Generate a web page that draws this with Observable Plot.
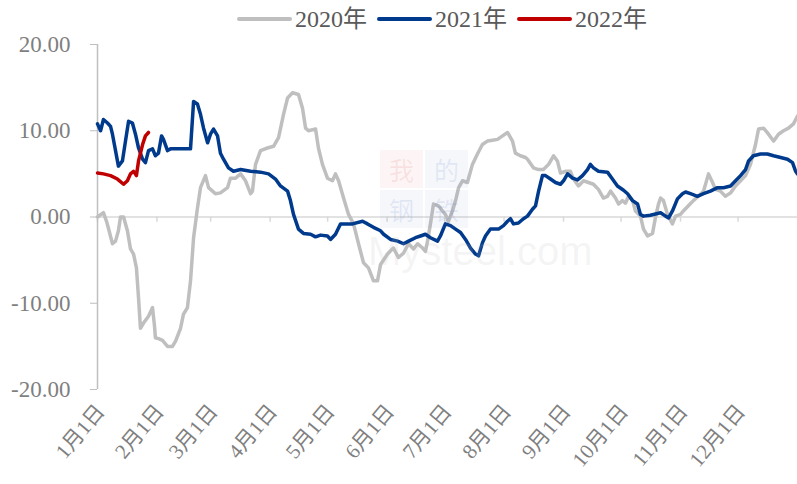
<!DOCTYPE html>
<html>
<head>
<meta charset="utf-8">
<script src="https://cdn.jsdelivr.net/npm/d3@7"></script>
<script src="https://cdn.jsdelivr.net/npm/@observablehq/plot@0.6"></script>
<style>
  body { margin: 0; background: #fff; }
  #wrap { position: relative; width: 797px; height: 484px; overflow: hidden; font-family: 'Liberation Serif', 'Noto Sans CJK SC', serif; }
  #legend { position: relative; height: 30px; width: 797px; }
  .item { position: absolute; top: 4px; display: flex; align-items: center; font-size: 24px; color: #595959; line-height: 30px; }
  .sw { width: 55px; height: 4px; border-radius: 2px; margin-right: 3px; }
  .wm { position: absolute; pointer-events: none; }
  .blk { position: absolute; width: 43px; height: 38px; font-size: 25px; line-height: 38px; text-align: center; font-family: 'Noto Sans CJK SC', sans-serif; }
</style>
</head>
<body>
<div id="wrap">
  <div id="legend"></div>
  <div id="chart"></div>
  <div class="wm" style="left:0;top:0;width:797px;height:484px;">
    <div class="blk" style="left:380px;top:150px;background:rgba(230,120,120,0.07);color:rgba(220,80,80,0.12);">我</div>
    <div class="blk" style="left:425px;top:150px;background:rgba(110,140,200,0.07);color:rgba(80,110,190,0.12);">的</div>
    <div class="blk" style="left:380px;top:190px;background:rgba(110,140,200,0.07);color:rgba(80,110,190,0.12);">钢</div>
    <div class="blk" style="left:425px;top:190px;background:rgba(110,140,200,0.07);color:rgba(80,110,190,0.12);">铁</div>
    <div style="position:absolute;left:368px;top:229px;font-family:'Liberation Sans',sans-serif;font-size:40px;color:rgba(190,190,190,0.16);">Mysteel.com</div>
  </div>
</div>
<script>
// ---- data (day of year, value) ----
const monthStarts = [0, 31, 59, 90, 120, 151, 181, 212, 243, 273, 304, 334];
const monthLabels = ["1月1日","2月1日","3月1日","4月1日","5月1日","6月1日","7月1日","8月1日","9月1日","10月1日","11月1日","12月1日"];
const yTicks = [-20, -10, 0, 10, 20];
const seriesNames = ["2020年", "2021年", "2022年"];
const seriesColors = ["#bfbfbf", "#003a8c", "#c00000"];

const days2020 = [0,3.1,4.7,5.7,7.8,9.4,10.9,12.0,13.6,15.6,17.2,18.8,20.3,21.4,22.4,24.0,26.6,28.7,29.7,30.2,31.8,33.9,36.5,39.1,40.7,43.3,44.8,46.9,48.5,50.1,52.1,53.7,56.3,57.9,60.0,61.5,64.1,67.8,69.3,72.0,74.6,77.2,79.8,80.8,82.4,85.0,88.6,91.8,94.4,97.0,99.1,101.7,104.8,106.9,108.5,110.0,113.7,115.2,117.3,119.9,122.5,124.1,125.7,128.3,130.9,133.5,136.1,138.7,141.3,143.9,146.0,147.6,151.2,154.3,156.9,159.5,162.2,164.8,166.9,169.5,171.0,172.1,173.6,175.2,177.8,179.9,181.4,183.0,185.1,186.7,188.3,190.3,192.9,195.5,198.1,200.7,203.3,206.0,208.6,211.2,213.8,216.4,217.9,220.5,223.2,224.2,227.3,229.9,232.5,235.2,237.8,239.8,241.4,244.0,246.6,248.2,250.8,253.4,256.0,258.6,261.2,263.8,265.9,267.5,270.1,271.7,273.7,275.3,276.9,279.0,280.5,283.1,284.7,286.8,289.4,290.9,292.5,293.6,295.1,297.2,299.8,301.4,304.0,305.5,308.1,310.7,313.3,316.0,318.6,320.7,322.2,324.8,327.4,330.1,332.7,335.3,337.9,340.5,343.1,344.7,347.3,349.9,352.5,355.1,357.7,360.3,362.9,365.0];
const vals2020 = [0,0.5,-0.5,-1.3,-3.1,-2.8,-1.6,0,0,-1.6,-3.7,-4.3,-5.9,-9.4,-12.9,-12.3,-11.5,-10.5,-12.6,-14.0,-14.1,-14.3,-15.0,-15.0,-14.4,-12.9,-11.3,-10.5,-7.4,-2.4,1.0,3.4,4.8,3.4,3.0,2.7,2.8,3.4,4.5,4.5,5.0,4.2,2.7,3.0,6.1,7.7,8.0,8.2,9.2,11.9,13.8,14.4,14.2,12.6,10.3,10.0,10.2,8.0,6.1,4.5,4.2,5.0,4.2,2.2,0.3,-0.8,-3.1,-5.3,-5.9,-7.4,-7.4,-5.5,-4.3,-3.6,-4.7,-4.2,-3.1,-3.7,-3.1,-3.6,-4.0,-2.8,-0.8,1.5,1.3,0.7,0.3,-0.5,0.7,1.9,3.4,4.2,4.0,6.1,7.3,8.4,8.8,8.9,9.0,9.4,9.8,8.8,7.4,7.1,6.9,6.7,5.7,5.5,5.5,6.1,7.1,6.5,5.1,5.3,5.3,4.4,3.6,4.2,4.0,3.8,3.2,2.2,2.4,3.0,2.2,1.5,1.9,1.6,2.4,1.9,0.7,0.1,-1.4,-2.2,-1.9,-0.1,1.5,2.2,1.9,0.3,-0.8,0.1,0.3,0.7,1.3,1.9,2.4,3.0,5.0,4.0,3.2,3.0,2.4,2.8,3.6,4.2,4.8,6.1,8.4,10.2,10.3,9.6,8.8,9.6,10.0,10.3,10.8,11.7];

const days2021 = [0,1.6,3.1,5.2,6.8,7.8,9.4,10.9,13.0,14.6,16.2,18.2,19.8,21.4,23.5,25.0,26.6,28.7,30.2,31.8,33.4,34.4,36.5,38.1,41.7,48.5,50.1,52.1,53.7,55.3,57.4,58.9,60.5,62.6,64.1,65.7,68.3,70.9,74.6,79.8,85.0,89.2,92.8,95.4,99.1,100.6,102.2,104.8,107.4,111.1,113.7,116.3,119.9,121.5,124.1,126.7,129.3,133.0,138.2,140.8,143.9,147.6,149.2,152.8,156.5,159.6,162.2,165.8,168.4,171.0,173.6,177.3,178.8,181.4,184.1,186.7,189.3,191.9,194.5,197.1,198.7,200.7,202.3,204.9,209.1,211.7,213.8,215.3,216.9,219.5,222.1,224.2,226.8,228.4,230.0,232.0,233.6,236.2,238.8,241.4,243.0,245.1,247.7,250.3,252.9,255.5,257.0,258.6,261.2,265.9,268.5,271.1,274.3,276.4,279.0,281.6,283.1,284.7,288.3,293.6,296.2,297.8,299.8,302.4,305.0,306.6,309.2,312.8,316.0,319.6,323.3,326.4,330.1,332.7,335.3,337.9,339.5,342.0,345.7,349.3,352.5,356.2,359.8,362.4,364.0,365.0];
const vals2021 = [10.8,10.0,11.3,10.9,10.5,9.6,7.7,5.9,6.5,8.8,11.1,10.9,9.6,8.0,6.7,6.3,7.7,7.9,7.1,7.4,9.4,9.0,7.7,7.9,7.9,7.9,13.4,13.1,11.9,10.3,8.6,9.6,10.2,9.4,7.4,6.7,5.7,5.3,5.5,5.3,5.2,5.0,4.4,3.6,3.0,1.9,0.3,-1.4,-1.9,-2.0,-2.3,-2.1,-2.2,-2.6,-2.0,-0.8,-0.8,-0.8,-0.5,-0.8,-1.2,-1.6,-2.0,-2.6,-2.8,-3.1,-2.8,-2.4,-2.2,-2.0,-2.4,-2.8,-2.2,-0.8,-1.0,-1.4,-1.8,-2.6,-3.6,-4.3,-4.5,-3.0,-2.2,-1.4,-1.4,-1.0,-0.5,-0.2,-0.8,-0.7,-0.2,0.1,0.9,1.3,3.0,4.8,4.8,4.4,4.0,3.8,4.2,5.0,4.5,4.3,4.8,5.5,6.1,5.7,5.3,5.2,4.4,3.6,3.1,2.7,1.9,1.5,0.3,0.1,0.2,0.5,0.1,-0.1,0.7,2.1,2.7,2.9,2.7,2.4,2.7,3.0,3.4,3.4,3.6,4.2,4.8,5.5,6.5,7.1,7.3,7.3,7.1,6.9,6.7,6.3,5.3,5.0];

const days2022 = [0,3.1,6.8,10.4,13.6,15.6,17.2,18.8,20.3,21.4,23.5,25.0,26.6];
const vals2022 = [5.1,5.0,4.8,4.4,3.8,4.2,5.0,5.3,4.8,6.5,8.4,9.4,9.8];

// ---- build tables ----
const toRows = (days, vals) => days.map((d, i) => ({d, v: vals[i]}));
const rows2020 = toRows(days2020, vals2020);
const rows2021 = toRows(days2021, vals2021);
const rows2022 = toRows(days2022, vals2022);

// ---- legend ----
const legend = document.getElementById("legend");
const legendLeft = [237, 377, 517];
seriesNames.forEach((name, i) => {
  const it = document.createElement("div");
  it.className = "item";
  it.style.left = legendLeft[i] + "px";
  it.innerHTML = `<span class="sw" style="background:${seriesColors[i]}"></span><span>${name}</span>`;
  legend.appendChild(it);
});

// ---- chart ----
const font = "'Liberation Serif', 'Noto Sans CJK SC', serif";
const chart = Plot.plot({
  width: 797,
  height: 454,
  marginTop: 14,
  marginBottom: 95,
  marginLeft: 97,
  marginRight: 0,
  style: {fontFamily: font, background: "transparent", overflow: "visible"},
  x: {domain: [0, 365], label: null},
  y: {domain: [-20, 20], label: null},
  marks: [
    Plot.ruleY([0], {stroke: "#d9d9d9", strokeWidth: 1.5}),
    Plot.ruleX(monthStarts, {y1: 0, y2: -0.6, stroke: "#d9d9d9", strokeWidth: 1.5}),
    Plot.ruleX([0], {y1: -20, y2: 20, stroke: "#bfbfbf", strokeWidth: 1.5}),
    Plot.axisY({ticks: yTicks, tickFormat: d => d.toFixed(2), tickSize: 7, tickPadding: 20,
      stroke: "#bfbfbf", fill: "#7f7f7f", fontSize: 23, fontFamily: font}),
    Plot.axisX({ticks: monthStarts, tickFormat: d => monthLabels[monthStarts.indexOf(d)],
      tickRotate: -50, tickSize: 0, tickPadding: 18, dx: 3,
      fill: "#7f7f7f", fontSize: 21, fontFamily: font}),
    Plot.line(rows2020, {x: "d", y: "v", stroke: seriesColors[0], strokeWidth: 3.5, strokeLinejoin: "round"}),
    Plot.line(rows2021, {x: "d", y: "v", stroke: seriesColors[1], strokeWidth: 3.5, strokeLinejoin: "round"}),
    Plot.line(rows2022, {x: "d", y: "v", stroke: seriesColors[2], strokeWidth: 3.5, strokeLinejoin: "round"})
  ]
});
document.getElementById("chart").appendChild(chart);
</script>
</body>
</html>
